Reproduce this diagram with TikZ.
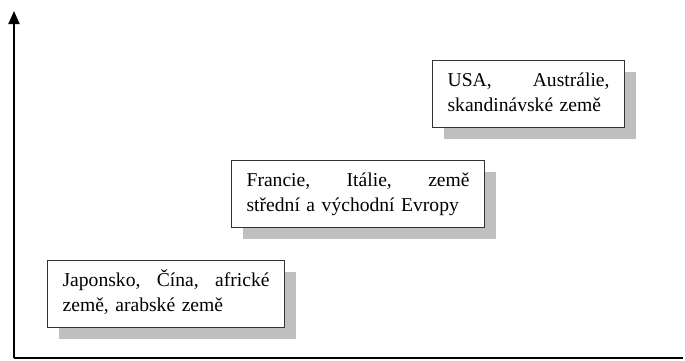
\documentclass[tikz,border=0pt]{standalone}
\usepackage{fontspec}
\setmainfont{Liberation Serif}
\usetikzlibrary{arrows.meta,shadows}

\begin{document}
\begin{tikzpicture}[x=1pt, y=-1pt,
        zone/.style={draw=black!80, line width=1.2pt, fill=white, align=left,
            inner xsep=15pt, inner ysep=0pt, minimum height=67pt, anchor=north west,
            font=\fontsize{19.6}{24.5}\selectfont,
            drop shadow={shadow xshift=11pt, shadow yshift=-11pt, fill=black!25, opacity=1, draw=none}},
        axis/.style={line width=1.8pt}]
        \useasboundingbox (0,0) rectangle (685,360);

        % Define axes
        \coordinate (o) at (14,358);
        \coordinate (ytop) at (14,11);
        \coordinate (xend) at (683,358);

        % Define nodes for the groups of countries
        \node at (432,60) (usa) [zone, text width=162pt] {\strut USA,\hfill Austrálie,\\\strut skandinávské země};
        \node at (231,160) (evropa) [zone, text width=223pt] {\strut Francie,\hfill Itálie,\hfill země\\\strut střední a východní Evropy};
        \node at (47,260) (asie) [zone, text width=207pt] {\strut Japonsko,\hfill Čína,\hfill africké\\\strut země, arabské země};

        % Draw axes
        \draw[axis, -{Triangle[width=11pt,length=13pt]}] (o) -- (ytop);
        \draw[axis] (o) -- (xend);
\end{tikzpicture}
\end{document}
